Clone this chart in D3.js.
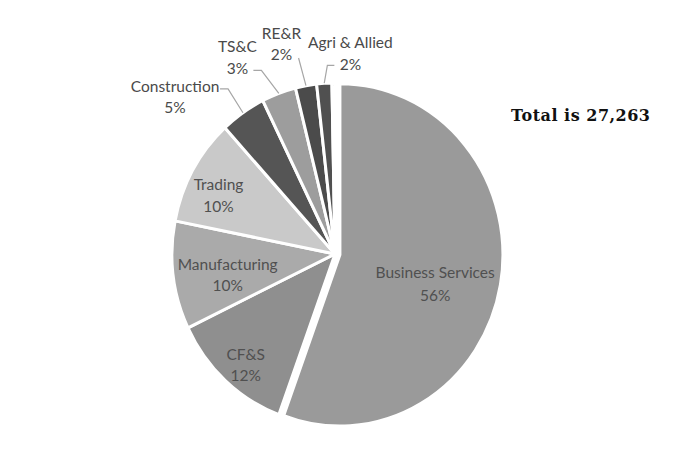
<!DOCTYPE html>
<html><head><meta charset="utf-8">
<script src="https://cdn.jsdelivr.net/npm/d3@7"></script>
<style>body{margin:0;background:#fff}svg{display:block}</style>
</head><body>
<svg id="c" width="688" height="452"></svg>
<script>
const categories = ["Business Services","CF&S","Manufacturing","Trading","Construction","TS&C","RE&R","Agri & Allied","Others"];
const shares = [55.6,12.3,10.2,10.1,4.5,3.4,2.1,1.5,0.3];
const colors = ["#9a9a9a","#8f8f8f","#aaaaaa","#c9c9c9","#555555","#9d9d9d","#4b4b4b","#505050","#6a6a6a"];
const totalText = "Total is 27,263";

// layout (not data)
const cx = 335, cy = 254, rx = 163, yScale = 1.05;
const layout = {
  "Business Services": {da: 6.6, k: 0.61, gap: 23},
  "CF&S": {da: -2.2, k: 0.85, gap: 21},
  "Manufacturing": {da: -3.4, k: 0.67, gap: 21},
  "Trading": {da: -4.1, k: 0.79, gap: 22},
  "Construction": {da: -12.7, k: 1.34, gap: 21, lead: [[53,-9],[45,-9]]},
  "TS&C": {da: -7.5, k: 1.29, gap: 22, lead: [[24,12],[16,12]]},
  "RE&R": {da: -4.7, k: 1.27, gap: 21, lead: [[17,14],[17,14]]},
  "Agri & Allied": {da: 8.4, k: 1.17, gap: 22, lead: [[-23,11],[-16,11]]}
};

const svg = d3.select("#c");
const data = categories.map((c,i)=>({cat:c, share:shares[i], color:colors[i]}));
const pie = d3.pie().sort(null).value(d=>d.share);
const arcs = pie(data);
const arc = d3.arc().innerRadius(0).outerRadius(rx);
const pt = (a, k) => [cx + k*rx*Math.sin(a), cy - k*rx*yScale*Math.cos(a)];
const explode = 5;

const g = svg.append("g");
arcs.forEach(a=>{
  const mid = (a.startAngle + a.endAngle)/2;
  const off = a.data.cat === "Business Services" ? explode : 0;
  const ox = off*Math.sin(mid), oy = -off*Math.cos(mid);
  g.append("path")
    .attr("d", arc(a))
    .attr("transform", `translate(${cx+ox},${cy+oy}) scale(1,${yScale})`)
    .attr("fill", a.data.color)
    .attr("stroke", "#fff")
    .attr("stroke-width", 3)
    .attr("vector-effect","non-scaling-stroke")
    .attr("stroke-linejoin","round");
});

arcs.forEach(a=>{
  const L = layout[a.data.cat];
  if (!L) return;
  const mid = (a.startAngle + a.endAngle)/2;
  const off = a.data.cat === "Business Services" ? explode : 0;
  const [lx, ly0] = pt(mid + L.da*Math.PI/180, L.k);
  const lx2 = lx + off*Math.sin(mid), ly = ly0 - off*Math.cos(mid);
  if (L.lead) {
    const [ax, ay] = pt(mid, 1.0);
    svg.append("polyline")
      .attr("points", [[ax,ay],[lx+L.lead[0][0], ly+L.lead[0][1]],[lx+L.lead[1][0], ly+L.lead[1][1]]].map(p=>p.join(",")).join(" "))
      .attr("fill","none").attr("stroke","#a6a6a6").attr("stroke-width",1.2);
  }
  const t = svg.append("text")
    .attr("x", lx2).attr("y", ly)
    .attr("text-anchor","middle")
    .attr("font-family","Lato, 'Open Sans', sans-serif")
    .attr("font-size", 15.5)
    .attr("fill", L.lead ? "#4a4a4a" : "#505050");
  t.append("tspan").attr("x", lx2).attr("dy", -L.gap/2 + 5).text(a.data.cat);
  t.append("tspan").attr("x", lx2).attr("dy", L.gap).text(Math.round(a.data.share) + "%");
});

svg.append("text")
  .attr("x", 511).attr("y", 121)
  .attr("font-family","'DejaVu Serif', serif")
  .attr("font-weight","bold")
  .attr("font-size", 16)
  .attr("textLength", 139)
  .attr("fill","#111")
  .text(totalText);
</script>
</body></html>
